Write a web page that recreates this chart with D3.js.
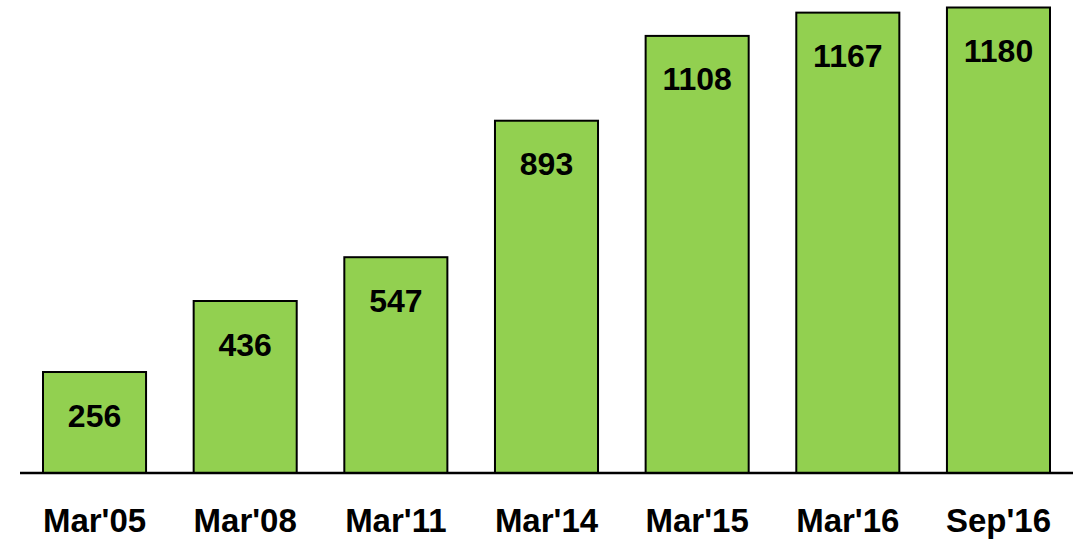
<!doctype html>
<html>
<head>
<style>
  body { margin: 0; background: #fff; }
  text { font-family: "Liberation Sans", Arial, sans-serif; font-weight: bold; fill: #000; }
</style>
<script src="https://d3js.org/d3.v7.min.js"></script>
</head>
<body>
<div id="chart"></div>
<script>
var categories = ["Mar'05", "Mar'08", "Mar'11", "Mar'14", "Mar'15", "Mar'16", "Sep'16"];
var values = [256, 436, 547, 893, 1108, 1167, 1180];

var width = 1084, height = 539;
var baseY = 473;

var svg = d3.select("#chart").append("svg")
    .attr("width", width)
    .attr("height", height);

var x = d3.scaleBand()
    .domain(categories)
    .range([19.2, 1073.8])
    .paddingInner(0.316)
    .paddingOuter(0.158);

var y = d3.scaleLinear()
    .domain([0, 1180])
    .range([baseY, 7.5]);

// bars
svg.selectAll("rect.bar")
    .data(values)
  .enter().append("rect")
    .attr("class", "bar")
    .attr("x", function(d, i) { return x(categories[i]); })
    .attr("y", function(d) { return y(d); })
    .attr("width", x.bandwidth())
    .attr("height", function(d) { return baseY - y(d); })
    .attr("fill", "#92D050")
    .attr("stroke", "#000")
    .attr("stroke-width", 2);

// value labels inside bars
svg.selectAll("text.val")
    .data(values)
  .enter().append("text")
    .attr("class", "val")
    .attr("x", function(d, i) { return x(categories[i]) + x.bandwidth() / 2; })
    .attr("y", function(d) { return y(d) + 54.5; })
    .attr("text-anchor", "middle")
    .style("font-size", "32px")
    .text(function(d) { return d; });

// baseline
svg.append("line")
    .attr("x1", 20).attr("x2", 1073)
    .attr("y1", baseY).attr("y2", baseY)
    .attr("stroke", "#000")
    .attr("stroke-width", 2.5);

// category labels
svg.selectAll("text.cat")
    .data(categories)
  .enter().append("text")
    .attr("class", "cat")
    .attr("x", function(d) { return x(d) + x.bandwidth() / 2; })
    .attr("y", 532)
    .attr("text-anchor", "middle")
    .style("font-size", "33px")
    .text(function(d) { return d; });
</script>
</body>
</html>
